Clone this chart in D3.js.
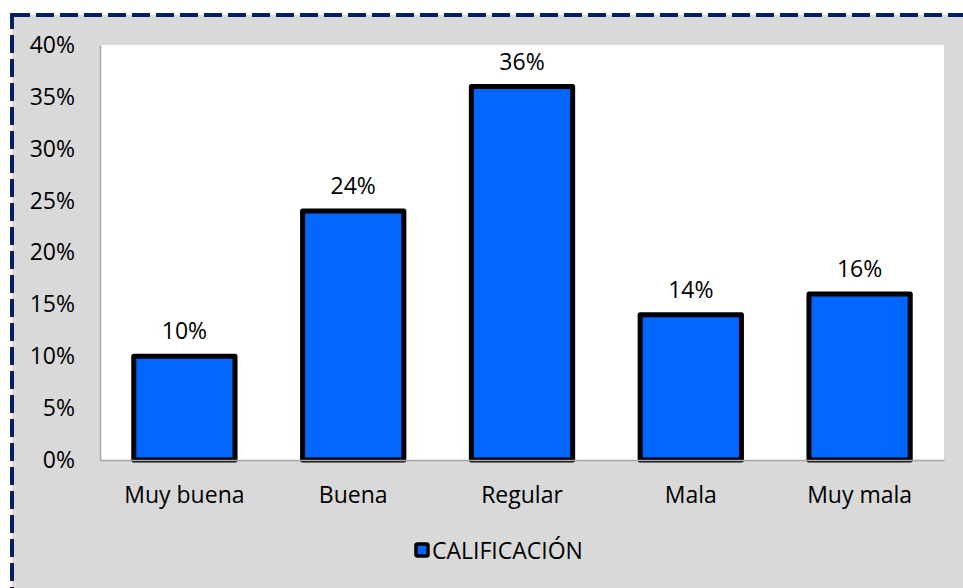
<!DOCTYPE html>
<html>
<head>
<meta charset="utf-8">
<script src="https://cdn.jsdelivr.net/npm/d3@7"></script>
<style>
  body { margin: 0; background: #fff; }
  text { font-family: "Open Sans", sans-serif; fill: #000; }
</style>
</head>
<body>
<div id="chart"></div>
<script>
'use strict'
// data
let categories = ['Muy buena', 'Buena', 'Regular', 'Mala', 'Muy mala'];
let values = [0.10, 0.24, 0.36, 0.14, 0.16];
let yTicks = [0, 0.05, 0.10, 0.15, 0.20, 0.25, 0.30, 0.35, 0.40];
let seriesName = 'CALIFICACIÓN';

let W = 963, H = 588;
let plot = {left: 100, right: 944, top: 45, bottom: 460};
let fontSize = '23px';

let svg = d3.select('#chart').append('svg')
  .attr('width', W).attr('height', H);

// grey chart area with dashed navy frame
svg.append('rect')
  .attr('x', 12).attr('y', 15).attr('width', W + 20).attr('height', H + 20)
  .attr('fill', '#d9d9d9')
  .attr('stroke', '#002060').attr('stroke-width', 4)
  .attr('stroke-dasharray', '18,6');

svg.append('rect')
  .attr('x', plot.left).attr('y', plot.top)
  .attr('width', plot.right - plot.left).attr('height', plot.bottom - plot.top)
  .attr('fill', '#fff');

let x = d3.scaleBand().domain(categories).range([plot.left, plot.right]).paddingInner(0.4).paddingOuter(0.2);
let y = d3.scaleLinear().domain([0, 0.4]).range([plot.bottom, plot.top]);

// bars
svg.selectAll('rect.bar')
  .data(values)
  .enter().append('rect')
  .attr('class', 'bar')
  .attr('x', (d, i) => x(categories[i]))
  .attr('y', d => y(d))
  .attr('width', x.bandwidth())
  .attr('height', d => y(0) - y(d))
  .attr('fill', '#0066ff')
  .attr('stroke', '#000').attr('stroke-width', 5)
  .attr('stroke-linejoin', 'round');

// value labels
svg.selectAll('text.val')
  .data(values)
  .enter().append('text')
  .attr('class', 'val')
  .attr('x', (d, i) => x(categories[i]) + x.bandwidth() / 2)
  .attr('y', d => y(d) - 17)
  .attr('text-anchor', 'middle')
  .style('font-size', fontSize)
  .text(d => Math.round(d * 100) + '%');

// y axis
let yAxis = d3.axisLeft(y).tickValues(yTicks).tickFormat(d3.format('.0%')).tickSize(0).tickPadding(25);
let yg = svg.append('g').attr('transform', 'translate(' + plot.left + ',0)').call(yAxis);
yg.select('.domain').attr('stroke', '#a6a6a6').attr('stroke-width', 1.5);
yg.selectAll('text').style('font-size', fontSize).style('font-family', '"Open Sans", sans-serif');

// x axis
let xAxis = d3.axisBottom(x).tickSize(0).tickPadding(27);
let xg = svg.append('g').attr('transform', 'translate(0,' + plot.bottom + ')').call(xAxis);
xg.select('.domain').attr('stroke', '#a6a6a6').attr('stroke-width', 1.5);
xg.selectAll('text').style('font-size', fontSize).style('font-family', '"Open Sans", sans-serif');

// legend
let lg = svg.append('g').attr('transform', 'translate(416,544)');
lg.append('rect').attr('x', 0).attr('y', 0).attr('width', 12).attr('height', 12)
  .attr('fill', '#0066ff').attr('stroke', '#000').attr('stroke-width', 3.5).attr('rx', 1.5);
lg.append('text').attr('x', 16).attr('y', 15).style('font-size', fontSize).text(seriesName);
</script>
</body>
</html>
